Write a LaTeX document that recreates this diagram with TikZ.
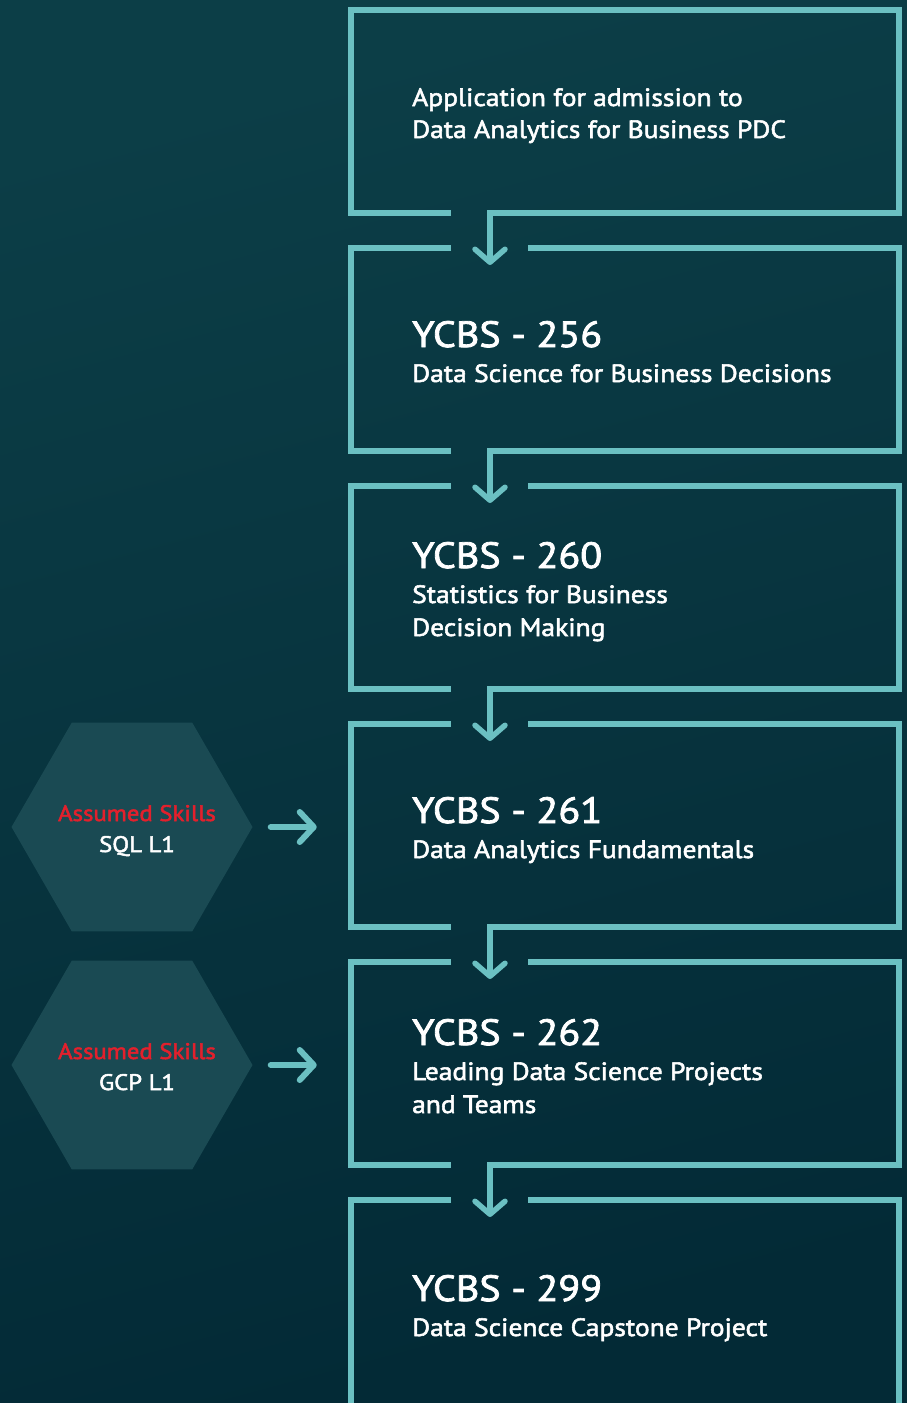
\documentclass[tikz,border=0pt]{standalone}
\usepackage{fontspec}
\setmainfont{PT Sans}
\newfontfamily\dinlike{PT Sans}[FakeBold=2.2, FakeStretch=1.1]
\usetikzlibrary{arrows.meta, shapes.geometric, positioning}

\definecolor{bgtop}{HTML}{0C3E47}
\definecolor{bgbottom}{HTML}{032A36}
\definecolor{frameteal}{HTML}{6BC0C2}
\definecolor{hexfill}{HTML}{1A4A53}
\definecolor{skillred}{HTML}{E3202C}

\tikzset{
  frame/.style={draw=frameteal, line width=5.5pt},
  flow/.style={frame, -{Straight Barb[length=13pt, width=30pt, round]}},
  side/.style={draw=frameteal, line width=6pt, line cap=round, -{Straight Barb[length=14pt, width=30pt, round]}},
  hexagon/.style={regular polygon, regular polygon sides=6, minimum size=241pt, inner sep=0pt, fill=hexfill},
  title/.style={anchor=base west, inner sep=0pt, text=white, font=\dinlike\fontsize{36.5}{40}\selectfont},
  sub/.style={anchor=base west, inner sep=0pt, text=white, font=\dinlike\fontsize{25}{30}\selectfont},
  skill/.style={anchor=base, inner sep=0pt, text=white, font=\dinlike\fontsize{22.5}{28}\selectfont}
}

\begin{document}
\begin{tikzpicture}[x=1pt, y=-1pt]

\useasboundingbox (0,0) rectangle (907,1403);
\shade[shading=axis, top color=bgtop, bottom color=bgbottom, shading angle=15] (0,0) rectangle (907,1403);

% boxes
\draw[flow] (451,213) -- (351,213) -- (351,10) -- (899,10) -- (899,213) -- (490,213) -- (490,265);

\draw[frame] (451,248) -- (351,248) -- (351,451) -- (451,451);
\draw[flow] (528,248) -- (899,248) -- (899,451) -- (490,451) -- (490,503);

\draw[frame] (451,486) -- (351,486) -- (351,689) -- (451,689);
\draw[flow] (528,486) -- (899,486) -- (899,689) -- (490,689) -- (490,741);

\draw[frame] (451,724) -- (351,724) -- (351,927) -- (451,927);
\draw[flow] (528,724) -- (899,724) -- (899,927) -- (490,927) -- (490,979);

\draw[frame] (451,962) -- (351,962) -- (351,1165) -- (451,1165);
\draw[flow] (528,962) -- (899,962) -- (899,1165) -- (490,1165) -- (490,1217);

\draw[frame] (451,1200) -- (351,1200) -- (351,1410);
\draw[frame] (528,1200) -- (899,1200) -- (899,1410);

% texts
\node[sub] (adm1) at (412,106) {Application for admission to};
\node[sub] (adm2) at (412,138) {Data Analytics for Business PDC};

\node[title] (c256) at (412,347) {YCBS - 256};
\node[sub] (s256) at (412,382) {Data Science for Business Decisions};

\node[title] (c260) at (412,568) {YCBS - 260};
\node[sub] (s260a) at (412,603) {Statistics for Business};
\node[sub] (s260b) at (412,636) {Decision Making};

\node[title] (c261) at (412,823) {YCBS - 261};
\node[sub] (s261) at (412,858) {Data Analytics Fundamentals};

\node[title] (c262) at (412,1045) {YCBS - 262};
\node[sub] (s262a) at (412,1080) {Leading Data Science Projects};
\node[sub] (s262b) at (412,1113) {and Teams};

\node[title] (c299) at (412,1301) {YCBS - 299};
\node[sub] (s299) at (412,1336) {Data Science Capstone Project};

% assumed skills
\node[hexagon] (sql) at (132,827) {};
\node[skill, text=skillred] (sqlhead) at (137,821) {Assumed Skills};
\node[skill] (sqlname) at (137,852) {SQL L1};
\draw[side] ([xshift=18pt]sql.east) -- ([xshift=64pt]sql.east);

\node[hexagon] (gcp) at (132,1065) {};
\node[skill, text=skillred] (gcphead) at (137,1059) {Assumed Skills};
\node[skill] (gcpname) at (137,1090) {GCP L1};
\draw[side] ([xshift=18pt]gcp.east) -- ([xshift=64pt]gcp.east);

\end{tikzpicture}
\end{document}
